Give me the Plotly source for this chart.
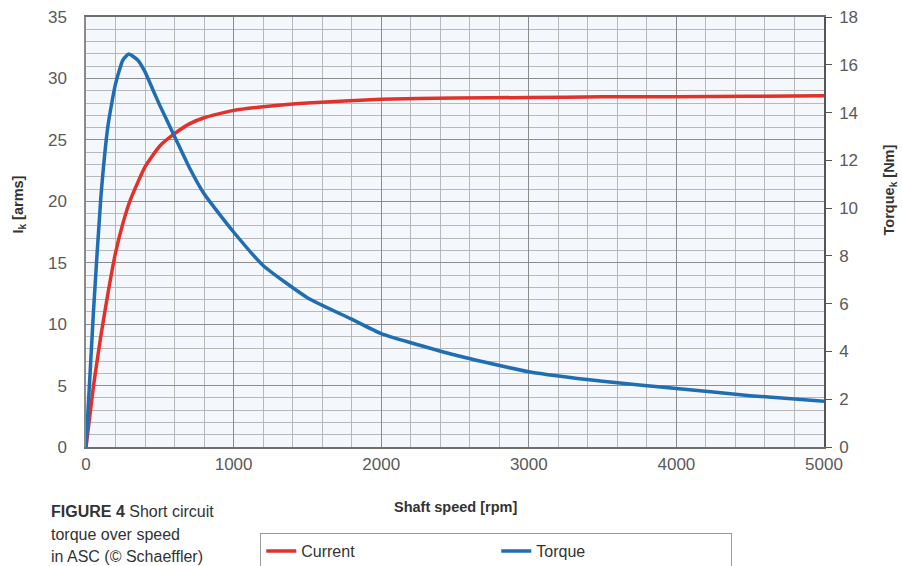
import plotly.graph_objects as go

# ---- data ----
speed_current = [0, 50, 100, 150, 200, 250, 300, 400, 500, 600, 700, 800, 1000, 1200,
                 1500, 2000, 2500, 3000, 3500, 4000, 4500, 5000]
current = [0, 4.9, 9.0, 12.6, 15.8, 18.2, 20.1, 22.8, 24.5, 25.5, 26.3, 26.8, 27.4, 27.7,
           28.0, 28.3, 28.4, 28.45, 28.5, 28.5, 28.55, 28.6]

speed_torque = [0, 50, 100, 150, 200, 250, 290, 350, 400, 450, 500, 600, 700, 800, 1000,
                1200, 1500, 1800, 2000, 2500, 3000, 3500, 4000, 4500, 5000]
torque = [0, 5.6, 10.4, 13.5, 15.2, 16.2, 16.45, 16.2, 15.7, 15.0, 14.3, 13.0, 11.7, 10.6,
          9.0, 7.6, 6.25, 5.35, 4.75, 3.85, 3.15, 2.75, 2.45, 2.15, 1.92]

x_ticks = [0, 1000, 2000, 3000, 4000, 5000]
y_left_ticks = [0, 5, 10, 15, 20, 25, 30, 35]
y_right_ticks = [0, 2, 4, 6, 8, 10, 12, 14, 16, 18]

RED = "#e2302a"
BLUE = "#1f6db3"
FONT = "Liberation Sans"
TICKFONT = dict(family=FONT, size=17, color="#5a5a5a")

fig = go.Figure()
fig.add_trace(go.Scatter(x=speed_current, y=current, name="Current", mode="lines",
                         line=dict(color=RED, width=3.5, shape="spline", smoothing=0.5),
                         yaxis="y"))
fig.add_trace(go.Scatter(x=speed_torque, y=torque, name="Torque", mode="lines",
                         line=dict(color=BLUE, width=3.5, shape="spline", smoothing=0.5),
                         yaxis="y2"))

W, H = 902, 566
L, R, T, B = 85.5, 77.5, 17, 119
PW, PH = W - L - R, H - T - B

fig.update_layout(
    width=W, height=H,
    margin=dict(l=L, r=R, t=T, b=B, autoexpand=False),
    paper_bgcolor="white",
    plot_bgcolor="#f4f8fc",
    font=dict(family=FONT, size=16, color="#555555"),
    showlegend=True,
    legend=dict(orientation="h", x=(260 - L) / PW, xanchor="left",
                y=(H - B - 533) / PH, yanchor="top",
                bordercolor="#9a9a9a", borderwidth=1, bgcolor="white",
                entrywidth=190, entrywidthmode="pixels",
                font=dict(family=FONT, size=16, color="#333333")),
    xaxis=dict(range=[0, 5000], tickvals=x_ticks, ticktext=[str(v) for v in x_ticks],
               showgrid=True, gridcolor="#8c8c8c", gridwidth=1,
               minor=dict(dtick=200, showgrid=True, gridcolor="#b8b8b8", gridwidth=1),
               showline=True, linecolor="#6e6e6e", linewidth=1.5, mirror=True,
               zeroline=False, ticks="", ticklabelstandoff=1, tickfont=TICKFONT),
    yaxis=dict(range=[0, 35], tickvals=y_left_ticks, ticktext=[str(v) for v in y_left_ticks],
               showgrid=True, gridcolor="#8c8c8c", gridwidth=1,
               minor=dict(dtick=1, showgrid=True, gridcolor="#b8b8b8", gridwidth=1),
               showline=True, linecolor="#8a8a8a", linewidth=1.5,
               zeroline=False, ticks="", ticklabelstandoff=14, tickfont=TICKFONT),
    yaxis2=dict(range=[0, 18], tickvals=y_right_ticks, ticktext=[str(v) for v in y_right_ticks],
                overlaying="y", side="right", showgrid=False, zeroline=False,
                showline=True, linecolor="#555555", linewidth=1.5,
                ticks="outside", ticklen=6, tickcolor="#555555", ticklabelstandoff=4,
                tickfont=TICKFONT),
)

ann = [
    dict(text="<b>I<sub>k</sub> [arms]</b>", x=18, y=H - 205, textangle=-90,
         font=dict(size=14.5, color="#333333")),
    dict(text="<b>Torque<sub>k</sub> [Nm]</b>", x=891, y=H - 190, textangle=-90,
         font=dict(size=14.5, color="#333333")),
    dict(text="<b>Shaft speed [rpm]</b>", x=455, y=H - 507,
         font=dict(size=14.5, color="#333333")),
    dict(text="<b>FIGURE 4</b> Short circuit", x=48, y=H - 511, xanchor="left",
         font=dict(size=16, color="#333333")),
    dict(text="torque over speed", x=48, y=H - 534, xanchor="left",
         font=dict(size=16, color="#333333")),
    dict(text="in ASC (© Schaeffler)", x=48, y=H - 556, xanchor="left",
         font=dict(size=16, color="#333333")),
]
for a in ann:
    fig.add_annotation(xref="paper", yref="paper",
                       x=(a["x"] - L) / PW, y=(a["y"] - B) / PH,
                       text=a["text"], showarrow=False, textangle=a.get("textangle", 0),
                       xanchor=a.get("xanchor", "center"), yanchor="middle",
                       font=dict(family=FONT, **a["font"]))

fig.write_html("out.html")
